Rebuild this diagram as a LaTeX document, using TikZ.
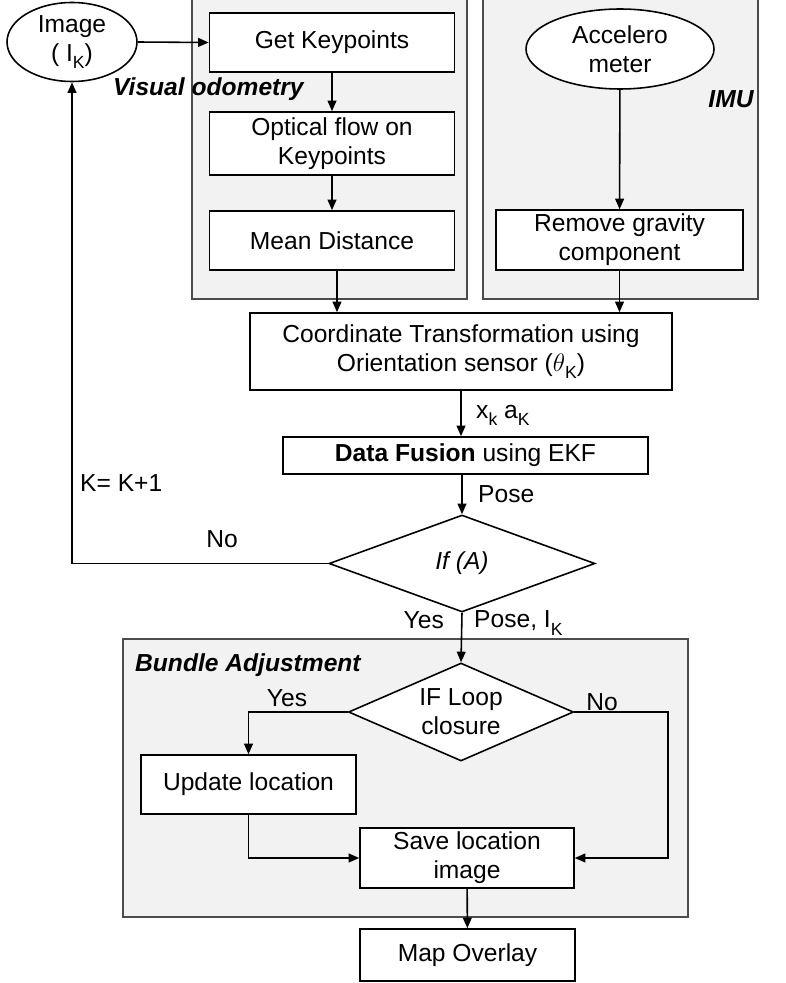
\documentclass[tikz,border=0pt]{standalone}
\usepackage{fontspec}
\setmainfont{Liberation Sans}
\usetikzlibrary{shapes.geometric}
\usetikzlibrary{arrows.meta}

\newcommand{\diagfont}{\fontsize{14}{16.5}\selectfont}
\newcommand{\lowsub}[1]{\raisebox{-0.55ex}{\fontsize{10}{10}\selectfont #1}}

\tikzset{
  every node/.style={font=\diagfont},
  box/.style={draw, line width=0.9pt, fill=white, align=center, inner sep=2pt},
  oval/.style={draw, line width=0.9pt, ellipse, fill=white, align=center, inner sep=0pt},
  decision/.style={draw, line width=0.9pt, diamond, aspect=2.3, fill=white, align=center, inner sep=0pt},
  group/.style={draw=black!70, line width=0.6pt, fill=black!5},
  grouplabel/.style={font=\diagfont\bfseries\itshape},
  arr/.style={line width=0.9pt, -{Triangle[length=6pt,width=5pt]}},
  link/.style={line width=0.9pt}
}

\begin{document}
\begin{tikzpicture}[x=0.02cm, y=-0.02cm]
\useasboundingbox (0,0) rectangle (786,983);

% Groups
\draw[group] (192,-2) rectangle (467,299);
\draw[group] (483,-2) rectangle (758,299);
\draw[group] (123,639) rectangle (688,917);
\node[grouplabel, anchor=west] (volbl) at (107,89) {Visual odometry};
\node[grouplabel] (imulbl) at (731,99) {IMU};
\node[grouplabel, anchor=west] (balbl) at (129,665) {Bundle Adjustment};

% Visual odometry
\node[oval, minimum width=2.6cm, minimum height=1.58cm] (img) at (72,42) {Image\\( I\lowsub{K})};
\node[box, minimum width=4.9cm, minimum height=1.18cm] (kp) at (332,42.5) {Get Keypoints};
\node[box, minimum width=4.9cm, minimum height=1.26cm] (of) at (332,143.5) {Optical flow on\\Keypoints};
\node[box, minimum width=4.9cm, minimum height=1.18cm] (md) at (332,240.5) {Mean Distance};

% IMU
\node[oval, minimum width=3.76cm, minimum height=1.6cm] (acc) at (620,49) {Accelero\\meter};
\node[box, minimum width=4.94cm, minimum height=1.2cm] (rg) at (619.5,240) {Remove gravity\\component};

% Fusion
\node[box, minimum width=8.44cm, minimum height=1.54cm] (ct) at (461,351.5) {Coordinate Transformation using\\Orientation sensor ($\theta$\lowsub{K})};
\node[box, minimum width=7.3cm, minimum height=0.74cm] (df) at (465.5,455.5) {\textbf{Data Fusion} using EKF};
\node[decision, minimum width=5.32cm, minimum height=1.94cm] (ifa) at (462,563.5) {\textit{If (A)}};

% Bundle adjustment
\node[decision, minimum width=4.5cm, minimum height=1.96cm] (lc) at (461,712) {IF Loop\\closure};
\node[box, minimum width=4.3cm, minimum height=1.18cm] (ul) at (248.5,784.5) {Update location};
\node[box, minimum width=4.28cm, minimum height=1.2cm] (sl) at (467,858) {Save location\\image};
\node[box, minimum width=4.3cm, minimum height=1.04cm] (mo) at (467.5,955) {Map Overlay};
\coordinate (nturn) at (668,712);

% Arrows
\draw[arr] (img.east) -- (kp.west);
\draw[arr] (kp) -- (of);
\draw[arr] (of) -- (md);
\draw[arr] ([xshift=0.1cm]md.south) -- ([xshift=0.1cm]md.south |- ct.north);
\draw[arr] (acc) -- (rg);
\draw[arr] (rg.south) -- (rg.south |- ct.north);
\draw[arr] (ct.south) -- (ct.south |- df.north);
\draw[arr] (df.south -| ifa.north) -- (ifa.north);
\draw[arr] (ifa.west) -- (img.south |- ifa.west) -- (img.south);
\draw[arr] (ifa.south) -- (lc.north);
\draw[arr] (lc.west) -| (ul.north);
\draw[arr] (ul.south) |- (sl.west);
\draw[arr] (lc.east) -- (nturn) |- (sl.east);
\draw[arr] (sl) -- (mo);

% Labels
\node[anchor=west] (xa) at (470,415) {x\lowsub{k} a\lowsub{K}};
\node[anchor=west] (pose) at (472,494) {Pose};
\node[anchor=west] (kinc) at (74,483) {K= K+1};
\node (nol) at (222,539) {No};
\node[anchor=east] (yesl) at (450,620) {Yes};
\node[anchor=west] (posei) at (468,623) {Pose, I\lowsub{K}};
\node (yesb) at (287,698) {Yes};
\node (nob) at (602,702) {No};

\end{tikzpicture}
\end{document}
